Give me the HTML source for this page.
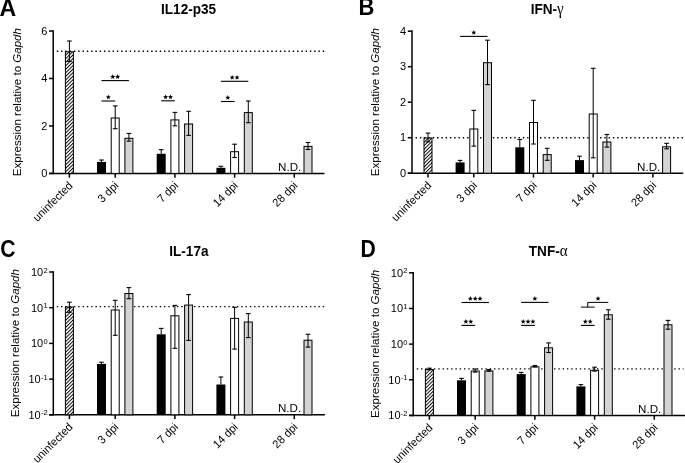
<!DOCTYPE html>
<html><head><meta charset="utf-8"><style>
html,body{margin:0;padding:0;background:#fff;}
body{width:685px;height:463px;overflow:hidden;}
svg{display:block;font-family:"Liberation Sans", sans-serif;will-change:transform;}
</style></head><body>
<svg width="685" height="463" viewBox="0 0 685 463" fill="#000">
<defs><pattern id="hatch" patternUnits="userSpaceOnUse" width="8" height="2.5" patternTransform="rotate(-45)"><rect x="0" y="0" width="8" height="2.5" fill="#fff"/><rect x="0" y="0" width="8" height="0.95" fill="#000"/></pattern></defs>
<text transform="translate(-0.5,15.5) scale(1.05,1.07)" font-size="22" font-weight="bold">A</text><text transform="translate(188.6,14.1) scale(1,1.05)" font-size="13.6" font-weight="bold" text-anchor="middle">IL12-p35</text><text transform="translate(20.9,176.2) scale(1,1.05) rotate(-90)" font-size="11">Expression relative to <tspan font-style="italic">Gapdh</tspan></text><line x1="53.2" y1="30.25" x2="53.2" y2="174.15" stroke="#000" stroke-width="1.5"/><line x1="49.0" y1="173.4" x2="324.5" y2="173.4" stroke="#000" stroke-width="1.5"/><line x1="49.0" y1="173.4" x2="53.2" y2="173.4" stroke="#000" stroke-width="1.5"/><text transform="translate(47.400000000000006,177.1) scale(1,1.044)" font-size="11" text-anchor="end">0</text><line x1="49.0" y1="125.94" x2="53.2" y2="125.94" stroke="#000" stroke-width="1.5"/><text transform="translate(47.400000000000006,129.64) scale(1,1.044)" font-size="11" text-anchor="end">2</text><line x1="49.0" y1="78.48" x2="53.2" y2="78.48" stroke="#000" stroke-width="1.5"/><text transform="translate(47.400000000000006,82.18) scale(1,1.044)" font-size="11" text-anchor="end">4</text><line x1="49.0" y1="31.02000000000001" x2="53.2" y2="31.02000000000001" stroke="#000" stroke-width="1.5"/><text transform="translate(47.400000000000006,34.72000000000001) scale(1,1.044)" font-size="11" text-anchor="end">6</text><line x1="69.4" y1="173.4" x2="69.4" y2="177.70000000000002" stroke="#000" stroke-width="1.5"/><text transform="translate(73.40,186.30) rotate(-45) scale(1,1.04)" font-size="11" text-anchor="end">uninfected</text><line x1="115.2" y1="173.4" x2="115.2" y2="177.70000000000002" stroke="#000" stroke-width="1.5"/><text transform="translate(119.20,186.30) rotate(-45) scale(1,1.04)" font-size="11" text-anchor="end">3 dpi</text><line x1="174.9" y1="173.4" x2="174.9" y2="177.70000000000002" stroke="#000" stroke-width="1.5"/><text transform="translate(178.90,186.30) rotate(-45) scale(1,1.04)" font-size="11" text-anchor="end">7 dpi</text><line x1="234.60000000000002" y1="173.4" x2="234.60000000000002" y2="177.70000000000002" stroke="#000" stroke-width="1.5"/><text transform="translate(238.60,186.30) rotate(-45) scale(1,1.04)" font-size="11" text-anchor="end">14 dpi</text><line x1="294.3" y1="173.4" x2="294.3" y2="177.70000000000002" stroke="#000" stroke-width="1.5"/><text transform="translate(298.30,186.30) rotate(-45) scale(1,1.04)" font-size="11" text-anchor="end">28 dpi</text><line x1="56.8" y1="51.3" x2="324.5" y2="51.3" stroke="#000" stroke-width="1.4" stroke-dasharray="1.4 2.89"/><rect x="65.40" y="51.80" width="8.00" height="121.60" fill="url(#hatch)" stroke="#000" stroke-width="1"/><rect x="97.00" y="161.90" width="9.0" height="11.50" fill="#000"/><rect x="111.20" y="118.00" width="8.00" height="55.40" fill="#fff" stroke="#000" stroke-width="1"/><rect x="124.90" y="138.30" width="8.00" height="35.10" fill="#d4d4d4" stroke="#000" stroke-width="1"/><rect x="156.70" y="153.80" width="9.0" height="19.60" fill="#000"/><rect x="170.90" y="119.90" width="8.00" height="53.50" fill="#fff" stroke="#000" stroke-width="1"/><rect x="184.60" y="124.00" width="8.00" height="49.40" fill="#d4d4d4" stroke="#000" stroke-width="1"/><rect x="216.40" y="167.80" width="9.0" height="5.60" fill="#000"/><rect x="230.60" y="151.70" width="8.00" height="21.70" fill="#fff" stroke="#000" stroke-width="1"/><rect x="244.30" y="112.60" width="8.00" height="60.80" fill="#d4d4d4" stroke="#000" stroke-width="1"/><rect x="304.00" y="146.40" width="8.00" height="27.00" fill="#d4d4d4" stroke="#000" stroke-width="1"/><line x1="69.40" y1="41.00" x2="69.40" y2="61.50" stroke="#000" stroke-width="1"/><line x1="67.10" y1="41.00" x2="71.70" y2="41.00" stroke="#000" stroke-width="1.1"/><line x1="67.10" y1="61.50" x2="71.70" y2="61.50" stroke="#000" stroke-width="1.1"/><line x1="101.50" y1="160.00" x2="101.50" y2="161.90" stroke="#000" stroke-width="1"/><line x1="99.20" y1="160.00" x2="103.80" y2="160.00" stroke="#000" stroke-width="1.1"/><line x1="115.20" y1="105.90" x2="115.20" y2="128.70" stroke="#000" stroke-width="1"/><line x1="112.90" y1="105.90" x2="117.50" y2="105.90" stroke="#000" stroke-width="1.1"/><line x1="112.90" y1="128.70" x2="117.50" y2="128.70" stroke="#000" stroke-width="1.1"/><line x1="128.90" y1="133.40" x2="128.90" y2="141.10" stroke="#000" stroke-width="1"/><line x1="126.60" y1="133.40" x2="131.20" y2="133.40" stroke="#000" stroke-width="1.1"/><line x1="126.60" y1="141.10" x2="131.20" y2="141.10" stroke="#000" stroke-width="1.1"/><line x1="161.20" y1="149.70" x2="161.20" y2="153.80" stroke="#000" stroke-width="1"/><line x1="158.90" y1="149.70" x2="163.50" y2="149.70" stroke="#000" stroke-width="1.1"/><line x1="174.90" y1="112.40" x2="174.90" y2="125.80" stroke="#000" stroke-width="1"/><line x1="172.60" y1="112.40" x2="177.20" y2="112.40" stroke="#000" stroke-width="1.1"/><line x1="172.60" y1="125.80" x2="177.20" y2="125.80" stroke="#000" stroke-width="1.1"/><line x1="188.60" y1="111.30" x2="188.60" y2="135.40" stroke="#000" stroke-width="1"/><line x1="186.30" y1="111.30" x2="190.90" y2="111.30" stroke="#000" stroke-width="1.1"/><line x1="186.30" y1="135.40" x2="190.90" y2="135.40" stroke="#000" stroke-width="1.1"/><line x1="220.90" y1="166.30" x2="220.90" y2="167.80" stroke="#000" stroke-width="1"/><line x1="218.60" y1="166.30" x2="223.20" y2="166.30" stroke="#000" stroke-width="1.1"/><line x1="234.60" y1="144.20" x2="234.60" y2="157.50" stroke="#000" stroke-width="1"/><line x1="232.30" y1="144.20" x2="236.90" y2="144.20" stroke="#000" stroke-width="1.1"/><line x1="232.30" y1="157.50" x2="236.90" y2="157.50" stroke="#000" stroke-width="1.1"/><line x1="248.30" y1="101.00" x2="248.30" y2="122.70" stroke="#000" stroke-width="1"/><line x1="246.00" y1="101.00" x2="250.60" y2="101.00" stroke="#000" stroke-width="1.1"/><line x1="246.00" y1="122.70" x2="250.60" y2="122.70" stroke="#000" stroke-width="1.1"/><line x1="308.00" y1="142.50" x2="308.00" y2="149.50" stroke="#000" stroke-width="1"/><line x1="305.70" y1="142.50" x2="310.30" y2="142.50" stroke="#000" stroke-width="1.1"/><line x1="305.70" y1="149.50" x2="310.30" y2="149.50" stroke="#000" stroke-width="1.1"/><text x="301.3" y="170.9" font-size="11.6" text-anchor="end">N.D.</text><line x1="101.50" y1="80.60" x2="128.90" y2="80.60" stroke="#000" stroke-width="1.1"/><polygon points="112.78,74.20 113.46,75.85 115.25,76.00 113.89,77.16 114.30,78.90 112.78,77.97 111.25,78.90 111.66,77.16 110.30,76.00 112.09,75.85" fill="#000"/><polygon points="117.62,74.20 118.31,75.85 120.10,76.00 118.74,77.16 119.15,78.90 117.62,77.97 116.10,78.90 116.51,77.16 115.15,76.00 116.94,75.85" fill="#000"/><line x1="101.50" y1="101.00" x2="115.20" y2="101.00" stroke="#000" stroke-width="1.1"/><polygon points="108.35,94.60 109.04,96.25 110.82,96.40 109.46,97.56 109.88,99.30 108.35,98.37 106.82,99.30 107.24,97.56 105.88,96.40 107.66,96.25" fill="#000"/><line x1="161.20" y1="100.80" x2="174.90" y2="100.80" stroke="#000" stroke-width="1.1"/><polygon points="165.62,94.40 166.31,96.05 168.10,96.20 166.74,97.36 167.15,99.10 165.62,98.17 164.10,99.10 164.51,97.36 163.15,96.20 164.94,96.05" fill="#000"/><polygon points="170.47,94.40 171.16,96.05 172.95,96.20 171.59,97.36 172.00,99.10 170.47,98.17 168.95,99.10 169.36,97.36 168.00,96.20 169.79,96.05" fill="#000"/><line x1="220.90" y1="81.30" x2="248.30" y2="81.30" stroke="#000" stroke-width="1.1"/><polygon points="232.18,74.90 232.86,76.55 234.65,76.70 233.29,77.86 233.70,79.60 232.18,78.67 230.65,79.60 231.06,77.86 229.70,76.70 231.49,76.55" fill="#000"/><polygon points="237.03,74.90 237.71,76.55 239.50,76.70 238.14,77.86 238.55,79.60 237.03,78.67 235.50,79.60 235.91,77.86 234.55,76.70 236.34,76.55" fill="#000"/><line x1="220.90" y1="101.50" x2="234.60" y2="101.50" stroke="#000" stroke-width="1.1"/><polygon points="227.75,95.10 228.44,96.75 230.22,96.90 228.86,98.06 229.28,99.80 227.75,98.87 226.22,99.80 226.64,98.06 225.28,96.90 227.06,96.75" fill="#000"/><text transform="translate(358.4,15.3) scale(1,1.08)" font-size="22" font-weight="bold">B</text><text transform="translate(547.2,14.1) scale(1,1.05)" font-size="13.6" font-weight="bold" text-anchor="middle">IFN-<tspan font-weight="normal" font-family="Liberation Serif" font-size="15">γ</tspan></text><text transform="translate(379.4,176.2) scale(1,1.05) rotate(-90)" font-size="11">Expression relative to <tspan font-style="italic">Gapdh</tspan></text><line x1="412.0" y1="30.25" x2="412.0" y2="173.95" stroke="#000" stroke-width="1.5"/><line x1="407.8" y1="173.2" x2="683.2" y2="173.2" stroke="#000" stroke-width="1.5"/><line x1="407.8" y1="173.2" x2="412.0" y2="173.2" stroke="#000" stroke-width="1.5"/><text transform="translate(406.2,176.89999999999998) scale(1,1.044)" font-size="11" text-anchor="end">0</text><line x1="407.8" y1="137.7" x2="412.0" y2="137.7" stroke="#000" stroke-width="1.5"/><text transform="translate(406.2,141.39999999999998) scale(1,1.044)" font-size="11" text-anchor="end">1</text><line x1="407.8" y1="102.19999999999999" x2="412.0" y2="102.19999999999999" stroke="#000" stroke-width="1.5"/><text transform="translate(406.2,105.89999999999999) scale(1,1.044)" font-size="11" text-anchor="end">2</text><line x1="407.8" y1="66.69999999999999" x2="412.0" y2="66.69999999999999" stroke="#000" stroke-width="1.5"/><text transform="translate(406.2,70.39999999999999) scale(1,1.044)" font-size="11" text-anchor="end">3</text><line x1="407.8" y1="31.19999999999999" x2="412.0" y2="31.19999999999999" stroke="#000" stroke-width="1.5"/><text transform="translate(406.2,34.89999999999999) scale(1,1.044)" font-size="11" text-anchor="end">4</text><line x1="428.0" y1="173.2" x2="428.0" y2="177.5" stroke="#000" stroke-width="1.5"/><text transform="translate(432.00,186.10) rotate(-45) scale(1,1.04)" font-size="11" text-anchor="end">uninfected</text><line x1="473.8" y1="173.2" x2="473.8" y2="177.5" stroke="#000" stroke-width="1.5"/><text transform="translate(477.80,186.10) rotate(-45) scale(1,1.04)" font-size="11" text-anchor="end">3 dpi</text><line x1="533.5" y1="173.2" x2="533.5" y2="177.5" stroke="#000" stroke-width="1.5"/><text transform="translate(537.50,186.10) rotate(-45) scale(1,1.04)" font-size="11" text-anchor="end">7 dpi</text><line x1="593.2" y1="173.2" x2="593.2" y2="177.5" stroke="#000" stroke-width="1.5"/><text transform="translate(597.20,186.10) rotate(-45) scale(1,1.04)" font-size="11" text-anchor="end">14 dpi</text><line x1="652.9000000000001" y1="173.2" x2="652.9000000000001" y2="177.5" stroke="#000" stroke-width="1.5"/><text transform="translate(656.90,186.10) rotate(-45) scale(1,1.04)" font-size="11" text-anchor="end">28 dpi</text><line x1="415.6" y1="137.7" x2="683.2" y2="137.7" stroke="#000" stroke-width="1.4" stroke-dasharray="1.4 2.89"/><rect x="424.00" y="138.00" width="8.00" height="35.20" fill="url(#hatch)" stroke="#000" stroke-width="1"/><rect x="455.60" y="162.40" width="9.0" height="10.80" fill="#000"/><rect x="469.80" y="129.00" width="8.00" height="44.20" fill="#fff" stroke="#000" stroke-width="1"/><rect x="483.50" y="62.70" width="8.00" height="110.50" fill="#d4d4d4" stroke="#000" stroke-width="1"/><rect x="515.30" y="147.30" width="9.0" height="25.90" fill="#000"/><rect x="529.50" y="122.50" width="8.00" height="50.70" fill="#fff" stroke="#000" stroke-width="1"/><rect x="543.20" y="154.60" width="8.00" height="18.60" fill="#d4d4d4" stroke="#000" stroke-width="1"/><rect x="575.00" y="160.10" width="9.0" height="13.10" fill="#000"/><rect x="589.20" y="114.00" width="8.00" height="59.20" fill="#fff" stroke="#000" stroke-width="1"/><rect x="602.90" y="142.00" width="8.00" height="31.20" fill="#d4d4d4" stroke="#000" stroke-width="1"/><rect x="662.60" y="146.80" width="8.00" height="26.40" fill="#d4d4d4" stroke="#000" stroke-width="1"/><line x1="428.00" y1="133.10" x2="428.00" y2="141.90" stroke="#000" stroke-width="1"/><line x1="425.70" y1="133.10" x2="430.30" y2="133.10" stroke="#000" stroke-width="1.1"/><line x1="425.70" y1="141.90" x2="430.30" y2="141.90" stroke="#000" stroke-width="1.1"/><line x1="460.10" y1="160.40" x2="460.10" y2="162.40" stroke="#000" stroke-width="1"/><line x1="457.80" y1="160.40" x2="462.40" y2="160.40" stroke="#000" stroke-width="1.1"/><line x1="473.80" y1="110.40" x2="473.80" y2="146.10" stroke="#000" stroke-width="1"/><line x1="471.50" y1="110.40" x2="476.10" y2="110.40" stroke="#000" stroke-width="1.1"/><line x1="471.50" y1="146.10" x2="476.10" y2="146.10" stroke="#000" stroke-width="1.1"/><line x1="487.50" y1="40.20" x2="487.50" y2="84.60" stroke="#000" stroke-width="1"/><line x1="485.20" y1="40.20" x2="489.80" y2="40.20" stroke="#000" stroke-width="1.1"/><line x1="485.20" y1="84.60" x2="489.80" y2="84.60" stroke="#000" stroke-width="1.1"/><line x1="519.80" y1="139.50" x2="519.80" y2="147.30" stroke="#000" stroke-width="1"/><line x1="517.50" y1="139.50" x2="522.10" y2="139.50" stroke="#000" stroke-width="1.1"/><line x1="533.50" y1="100.30" x2="533.50" y2="144.00" stroke="#000" stroke-width="1"/><line x1="531.20" y1="100.30" x2="535.80" y2="100.30" stroke="#000" stroke-width="1.1"/><line x1="531.20" y1="144.00" x2="535.80" y2="144.00" stroke="#000" stroke-width="1.1"/><line x1="547.20" y1="148.30" x2="547.20" y2="160.30" stroke="#000" stroke-width="1"/><line x1="544.90" y1="148.30" x2="549.50" y2="148.30" stroke="#000" stroke-width="1.1"/><line x1="544.90" y1="160.30" x2="549.50" y2="160.30" stroke="#000" stroke-width="1.1"/><line x1="579.50" y1="156.20" x2="579.50" y2="160.10" stroke="#000" stroke-width="1"/><line x1="577.20" y1="156.20" x2="581.80" y2="156.20" stroke="#000" stroke-width="1.1"/><line x1="593.20" y1="68.30" x2="593.20" y2="157.80" stroke="#000" stroke-width="1"/><line x1="590.90" y1="68.30" x2="595.50" y2="68.30" stroke="#000" stroke-width="1.1"/><line x1="590.90" y1="157.80" x2="595.50" y2="157.80" stroke="#000" stroke-width="1.1"/><line x1="606.90" y1="134.50" x2="606.90" y2="147.10" stroke="#000" stroke-width="1"/><line x1="604.60" y1="134.50" x2="609.20" y2="134.50" stroke="#000" stroke-width="1.1"/><line x1="604.60" y1="147.10" x2="609.20" y2="147.10" stroke="#000" stroke-width="1.1"/><line x1="666.60" y1="143.30" x2="666.60" y2="148.80" stroke="#000" stroke-width="1"/><line x1="664.30" y1="143.30" x2="668.90" y2="143.30" stroke="#000" stroke-width="1.1"/><line x1="664.30" y1="148.80" x2="668.90" y2="148.80" stroke="#000" stroke-width="1.1"/><text x="660.3" y="170.9" font-size="11.6" text-anchor="end">N.D.</text><line x1="460.10" y1="36.40" x2="487.50" y2="36.40" stroke="#000" stroke-width="1.1"/><polygon points="473.80,30.00 474.49,31.65 476.27,31.80 474.91,32.96 475.33,34.70 473.80,33.77 472.27,34.70 472.69,32.96 471.33,31.80 473.11,31.65" fill="#000"/><text transform="translate(0.3,257.0) scale(0.96,1.05)" font-size="22" font-weight="bold">C</text><text transform="translate(188.9,255.5) scale(1,1.05)" font-size="13.6" font-weight="bold" text-anchor="middle">IL-17a</text><text transform="translate(19.0,417.2) scale(1,1.05) rotate(-90)" font-size="11">Expression relative to <tspan font-style="italic">Gapdh</tspan></text><line x1="53.3" y1="271.25" x2="53.3" y2="415.55" stroke="#000" stroke-width="1.5"/><line x1="49.099999999999994" y1="414.8" x2="324.8" y2="414.8" stroke="#000" stroke-width="1.5"/><line x1="49.099999999999994" y1="414.8" x2="53.3" y2="414.8" stroke="#000" stroke-width="1.5"/><text transform="translate(47.65,418.75) scale(1,1.044)" font-size="11" text-anchor="end">10<tspan font-size="7.6" dx="0.3" dy="-3.3">-2</tspan></text><line x1="49.099999999999994" y1="379.1" x2="53.3" y2="379.1" stroke="#000" stroke-width="1.5"/><text transform="translate(47.65,383.05) scale(1,1.044)" font-size="11" text-anchor="end">10<tspan font-size="7.6" dx="0.3" dy="-3.3">-1</tspan></text><line x1="49.099999999999994" y1="343.4" x2="53.3" y2="343.4" stroke="#000" stroke-width="1.5"/><text transform="translate(47.65,347.34999999999997) scale(1,1.044)" font-size="11" text-anchor="end">10<tspan font-size="7.6" dx="0.3" dy="-3.3">0</tspan></text><line x1="49.099999999999994" y1="307.7" x2="53.3" y2="307.7" stroke="#000" stroke-width="1.5"/><text transform="translate(47.65,311.65) scale(1,1.044)" font-size="11" text-anchor="end">10<tspan font-size="7.6" dx="0.3" dy="-3.3">1</tspan></text><line x1="49.099999999999994" y1="272.0" x2="53.3" y2="272.0" stroke="#000" stroke-width="1.5"/><text transform="translate(47.65,275.95) scale(1,1.044)" font-size="11" text-anchor="end">10<tspan font-size="7.6" dx="0.3" dy="-3.3">2</tspan></text><line x1="69.4" y1="414.8" x2="69.4" y2="419.1" stroke="#000" stroke-width="1.5"/><text transform="translate(73.40,427.70) rotate(-45) scale(1,1.04)" font-size="11" text-anchor="end">uninfected</text><line x1="115.2" y1="414.8" x2="115.2" y2="419.1" stroke="#000" stroke-width="1.5"/><text transform="translate(119.20,427.70) rotate(-45) scale(1,1.04)" font-size="11" text-anchor="end">3 dpi</text><line x1="174.9" y1="414.8" x2="174.9" y2="419.1" stroke="#000" stroke-width="1.5"/><text transform="translate(178.90,427.70) rotate(-45) scale(1,1.04)" font-size="11" text-anchor="end">7 dpi</text><line x1="234.60000000000002" y1="414.8" x2="234.60000000000002" y2="419.1" stroke="#000" stroke-width="1.5"/><text transform="translate(238.60,427.70) rotate(-45) scale(1,1.04)" font-size="11" text-anchor="end">14 dpi</text><line x1="294.3" y1="414.8" x2="294.3" y2="419.1" stroke="#000" stroke-width="1.5"/><text transform="translate(298.30,427.70) rotate(-45) scale(1,1.04)" font-size="11" text-anchor="end">28 dpi</text><line x1="56.8" y1="306.6" x2="324.8" y2="306.6" stroke="#000" stroke-width="1.4" stroke-dasharray="1.4 2.89"/><rect x="65.40" y="307.00" width="8.00" height="107.80" fill="url(#hatch)" stroke="#000" stroke-width="1"/><rect x="97.00" y="363.90" width="9.0" height="50.90" fill="#000"/><rect x="111.20" y="310.00" width="8.00" height="104.80" fill="#fff" stroke="#000" stroke-width="1"/><rect x="124.90" y="293.50" width="8.00" height="121.30" fill="#d4d4d4" stroke="#000" stroke-width="1"/><rect x="156.70" y="334.30" width="9.0" height="80.50" fill="#000"/><rect x="170.90" y="315.80" width="8.00" height="99.00" fill="#fff" stroke="#000" stroke-width="1"/><rect x="184.60" y="305.10" width="8.00" height="109.70" fill="#d4d4d4" stroke="#000" stroke-width="1"/><rect x="216.40" y="384.50" width="9.0" height="30.30" fill="#000"/><rect x="230.60" y="318.40" width="8.00" height="96.40" fill="#fff" stroke="#000" stroke-width="1"/><rect x="244.30" y="322.00" width="8.00" height="92.80" fill="#d4d4d4" stroke="#000" stroke-width="1"/><rect x="304.00" y="340.20" width="8.00" height="74.60" fill="#d4d4d4" stroke="#000" stroke-width="1"/><line x1="69.40" y1="302.20" x2="69.40" y2="312.30" stroke="#000" stroke-width="1"/><line x1="67.10" y1="302.20" x2="71.70" y2="302.20" stroke="#000" stroke-width="1.1"/><line x1="67.10" y1="312.30" x2="71.70" y2="312.30" stroke="#000" stroke-width="1.1"/><line x1="101.50" y1="362.20" x2="101.50" y2="363.90" stroke="#000" stroke-width="1"/><line x1="99.20" y1="362.20" x2="103.80" y2="362.20" stroke="#000" stroke-width="1.1"/><line x1="115.20" y1="300.30" x2="115.20" y2="335.30" stroke="#000" stroke-width="1"/><line x1="112.90" y1="300.30" x2="117.50" y2="300.30" stroke="#000" stroke-width="1.1"/><line x1="112.90" y1="335.30" x2="117.50" y2="335.30" stroke="#000" stroke-width="1.1"/><line x1="128.90" y1="287.60" x2="128.90" y2="298.70" stroke="#000" stroke-width="1"/><line x1="126.60" y1="287.60" x2="131.20" y2="287.60" stroke="#000" stroke-width="1.1"/><line x1="126.60" y1="298.70" x2="131.20" y2="298.70" stroke="#000" stroke-width="1.1"/><line x1="161.20" y1="328.40" x2="161.20" y2="334.30" stroke="#000" stroke-width="1"/><line x1="158.90" y1="328.40" x2="163.50" y2="328.40" stroke="#000" stroke-width="1.1"/><line x1="174.90" y1="305.40" x2="174.90" y2="348.30" stroke="#000" stroke-width="1"/><line x1="172.60" y1="305.40" x2="177.20" y2="305.40" stroke="#000" stroke-width="1.1"/><line x1="172.60" y1="348.30" x2="177.20" y2="348.30" stroke="#000" stroke-width="1.1"/><line x1="188.60" y1="294.60" x2="188.60" y2="340.40" stroke="#000" stroke-width="1"/><line x1="186.30" y1="294.60" x2="190.90" y2="294.60" stroke="#000" stroke-width="1.1"/><line x1="186.30" y1="340.40" x2="190.90" y2="340.40" stroke="#000" stroke-width="1.1"/><line x1="220.90" y1="377.00" x2="220.90" y2="384.50" stroke="#000" stroke-width="1"/><line x1="218.60" y1="377.00" x2="223.20" y2="377.00" stroke="#000" stroke-width="1.1"/><line x1="234.60" y1="307.30" x2="234.60" y2="349.10" stroke="#000" stroke-width="1"/><line x1="232.30" y1="307.30" x2="236.90" y2="307.30" stroke="#000" stroke-width="1.1"/><line x1="232.30" y1="349.10" x2="236.90" y2="349.10" stroke="#000" stroke-width="1.1"/><line x1="248.30" y1="313.60" x2="248.30" y2="337.60" stroke="#000" stroke-width="1"/><line x1="246.00" y1="313.60" x2="250.60" y2="313.60" stroke="#000" stroke-width="1.1"/><line x1="246.00" y1="337.60" x2="250.60" y2="337.60" stroke="#000" stroke-width="1.1"/><line x1="308.00" y1="334.30" x2="308.00" y2="347.10" stroke="#000" stroke-width="1"/><line x1="305.70" y1="334.30" x2="310.30" y2="334.30" stroke="#000" stroke-width="1.1"/><line x1="305.70" y1="347.10" x2="310.30" y2="347.10" stroke="#000" stroke-width="1.1"/><text x="301.2" y="411.6" font-size="11.6" text-anchor="end">N.D.</text><text transform="translate(360.6,256.9) scale(0.96,1.05)" font-size="22" font-weight="bold">D</text><text transform="translate(548.2,255.8) scale(1,1.05)" font-size="13.6" font-weight="bold" text-anchor="middle">TNF-<tspan font-weight="normal" font-family="Liberation Serif" font-size="15">α</tspan></text><text transform="translate(379.2,418.0) scale(1,1.05) rotate(-90)" font-size="11">Expression relative to <tspan font-style="italic">Gapdh</tspan></text><line x1="413.2" y1="272.05" x2="413.2" y2="416.15" stroke="#000" stroke-width="1.5"/><line x1="409.0" y1="415.4" x2="685" y2="415.4" stroke="#000" stroke-width="1.5"/><line x1="409.0" y1="415.4" x2="413.2" y2="415.4" stroke="#000" stroke-width="1.5"/><text transform="translate(407.55,419.34999999999997) scale(1,1.044)" font-size="11" text-anchor="end">10<tspan font-size="7.6" dx="0.3" dy="-3.3">-2</tspan></text><line x1="409.0" y1="379.75" x2="413.2" y2="379.75" stroke="#000" stroke-width="1.5"/><text transform="translate(407.55,383.7) scale(1,1.044)" font-size="11" text-anchor="end">10<tspan font-size="7.6" dx="0.3" dy="-3.3">-1</tspan></text><line x1="409.0" y1="344.1" x2="413.2" y2="344.1" stroke="#000" stroke-width="1.5"/><text transform="translate(407.55,348.05) scale(1,1.044)" font-size="11" text-anchor="end">10<tspan font-size="7.6" dx="0.3" dy="-3.3">0</tspan></text><line x1="409.0" y1="308.45" x2="413.2" y2="308.45" stroke="#000" stroke-width="1.5"/><text transform="translate(407.55,312.4) scale(1,1.044)" font-size="11" text-anchor="end">10<tspan font-size="7.6" dx="0.3" dy="-3.3">1</tspan></text><line x1="409.0" y1="272.8" x2="413.2" y2="272.8" stroke="#000" stroke-width="1.5"/><text transform="translate(407.55,276.75) scale(1,1.044)" font-size="11" text-anchor="end">10<tspan font-size="7.6" dx="0.3" dy="-3.3">2</tspan></text><line x1="429.4" y1="415.4" x2="429.4" y2="419.7" stroke="#000" stroke-width="1.5"/><text transform="translate(433.40,428.30) rotate(-45) scale(1,1.04)" font-size="11" text-anchor="end">uninfected</text><line x1="475.2" y1="415.4" x2="475.2" y2="419.7" stroke="#000" stroke-width="1.5"/><text transform="translate(479.20,428.30) rotate(-45) scale(1,1.04)" font-size="11" text-anchor="end">3 dpi</text><line x1="534.9" y1="415.4" x2="534.9" y2="419.7" stroke="#000" stroke-width="1.5"/><text transform="translate(538.90,428.30) rotate(-45) scale(1,1.04)" font-size="11" text-anchor="end">7 dpi</text><line x1="594.6" y1="415.4" x2="594.6" y2="419.7" stroke="#000" stroke-width="1.5"/><text transform="translate(598.60,428.30) rotate(-45) scale(1,1.04)" font-size="11" text-anchor="end">14 dpi</text><line x1="654.3" y1="415.4" x2="654.3" y2="419.7" stroke="#000" stroke-width="1.5"/><text transform="translate(658.30,428.30) rotate(-45) scale(1,1.04)" font-size="11" text-anchor="end">28 dpi</text><line x1="416.8" y1="368.9" x2="683.5" y2="368.9" stroke="#000" stroke-width="1.4" stroke-dasharray="1.4 2.89"/><rect x="425.40" y="369.50" width="8.00" height="45.90" fill="url(#hatch)" stroke="#000" stroke-width="1"/><rect x="457.00" y="380.30" width="9.0" height="35.10" fill="#000"/><rect x="471.20" y="371.00" width="8.00" height="44.40" fill="#fff" stroke="#000" stroke-width="1"/><rect x="484.90" y="370.90" width="8.00" height="44.50" fill="#d4d4d4" stroke="#000" stroke-width="1"/><rect x="516.70" y="374.10" width="9.0" height="41.30" fill="#000"/><rect x="530.90" y="366.80" width="8.00" height="48.60" fill="#fff" stroke="#000" stroke-width="1"/><rect x="544.60" y="347.80" width="8.00" height="67.60" fill="#d4d4d4" stroke="#000" stroke-width="1"/><rect x="576.40" y="386.40" width="9.0" height="29.00" fill="#000"/><rect x="590.60" y="370.30" width="8.00" height="45.10" fill="#fff" stroke="#000" stroke-width="1"/><rect x="604.30" y="314.80" width="8.00" height="100.60" fill="#d4d4d4" stroke="#000" stroke-width="1"/><rect x="664.00" y="324.80" width="8.00" height="90.60" fill="#d4d4d4" stroke="#000" stroke-width="1"/><line x1="429.40" y1="368.20" x2="429.40" y2="369.80" stroke="#000" stroke-width="1"/><line x1="427.10" y1="368.20" x2="431.70" y2="368.20" stroke="#000" stroke-width="1.1"/><line x1="427.10" y1="369.80" x2="431.70" y2="369.80" stroke="#000" stroke-width="1.1"/><line x1="461.50" y1="378.40" x2="461.50" y2="380.30" stroke="#000" stroke-width="1"/><line x1="459.20" y1="378.40" x2="463.80" y2="378.40" stroke="#000" stroke-width="1.1"/><line x1="475.20" y1="369.00" x2="475.20" y2="372.10" stroke="#000" stroke-width="1"/><line x1="472.90" y1="369.00" x2="477.50" y2="369.00" stroke="#000" stroke-width="1.1"/><line x1="472.90" y1="372.10" x2="477.50" y2="372.10" stroke="#000" stroke-width="1.1"/><line x1="488.90" y1="369.50" x2="488.90" y2="371.20" stroke="#000" stroke-width="1"/><line x1="486.60" y1="369.50" x2="491.20" y2="369.50" stroke="#000" stroke-width="1.1"/><line x1="486.60" y1="371.20" x2="491.20" y2="371.20" stroke="#000" stroke-width="1.1"/><line x1="521.20" y1="372.40" x2="521.20" y2="374.10" stroke="#000" stroke-width="1"/><line x1="518.90" y1="372.40" x2="523.50" y2="372.40" stroke="#000" stroke-width="1.1"/><line x1="534.90" y1="365.50" x2="534.90" y2="367.00" stroke="#000" stroke-width="1"/><line x1="532.60" y1="365.50" x2="537.20" y2="365.50" stroke="#000" stroke-width="1.1"/><line x1="532.60" y1="367.00" x2="537.20" y2="367.00" stroke="#000" stroke-width="1.1"/><line x1="548.60" y1="342.90" x2="548.60" y2="352.50" stroke="#000" stroke-width="1"/><line x1="546.30" y1="342.90" x2="550.90" y2="342.90" stroke="#000" stroke-width="1.1"/><line x1="546.30" y1="352.50" x2="550.90" y2="352.50" stroke="#000" stroke-width="1.1"/><line x1="580.90" y1="384.60" x2="580.90" y2="386.40" stroke="#000" stroke-width="1"/><line x1="578.60" y1="384.60" x2="583.20" y2="384.60" stroke="#000" stroke-width="1.1"/><line x1="594.60" y1="367.20" x2="594.60" y2="371.10" stroke="#000" stroke-width="1"/><line x1="592.30" y1="367.20" x2="596.90" y2="367.20" stroke="#000" stroke-width="1.1"/><line x1="592.30" y1="371.10" x2="596.90" y2="371.10" stroke="#000" stroke-width="1.1"/><line x1="608.30" y1="309.80" x2="608.30" y2="319.20" stroke="#000" stroke-width="1"/><line x1="606.00" y1="309.80" x2="610.60" y2="309.80" stroke="#000" stroke-width="1.1"/><line x1="606.00" y1="319.20" x2="610.60" y2="319.20" stroke="#000" stroke-width="1.1"/><line x1="668.00" y1="320.40" x2="668.00" y2="329.20" stroke="#000" stroke-width="1"/><line x1="665.70" y1="320.40" x2="670.30" y2="320.40" stroke="#000" stroke-width="1.1"/><line x1="665.70" y1="329.20" x2="670.30" y2="329.20" stroke="#000" stroke-width="1.1"/><text x="661.3" y="412.5" font-size="11.6" text-anchor="end">N.D.</text><line x1="461.50" y1="302.50" x2="488.90" y2="302.50" stroke="#000" stroke-width="1.1"/><polygon points="470.35,296.10 471.04,297.75 472.82,297.90 471.46,299.06 471.88,300.80 470.35,299.87 468.82,300.80 469.24,299.06 467.88,297.90 469.66,297.75" fill="#000"/><polygon points="475.20,296.10 475.89,297.75 477.67,297.90 476.31,299.06 476.73,300.80 475.20,299.87 473.67,300.80 474.09,299.06 472.73,297.90 474.51,297.75" fill="#000"/><polygon points="480.05,296.10 480.74,297.75 482.52,297.90 481.16,299.06 481.58,300.80 480.05,299.87 478.52,300.80 478.94,299.06 477.58,297.90 479.36,297.75" fill="#000"/><line x1="461.50" y1="325.40" x2="475.20" y2="325.40" stroke="#000" stroke-width="1.1"/><polygon points="465.93,319.00 466.61,320.65 468.40,320.80 467.04,321.96 467.45,323.70 465.93,322.77 464.40,323.70 464.81,321.96 463.45,320.80 465.24,320.65" fill="#000"/><polygon points="470.78,319.00 471.46,320.65 473.25,320.80 471.89,321.96 472.30,323.70 470.78,322.77 469.25,323.70 469.66,321.96 468.30,320.80 470.09,320.65" fill="#000"/><line x1="521.20" y1="302.40" x2="548.60" y2="302.40" stroke="#000" stroke-width="1.1"/><polygon points="534.90,296.00 535.59,297.65 537.37,297.80 536.01,298.96 536.43,300.70 534.90,299.77 533.37,300.70 533.79,298.96 532.43,297.80 534.21,297.65" fill="#000"/><line x1="521.20" y1="325.40" x2="534.90" y2="325.40" stroke="#000" stroke-width="1.1"/><polygon points="523.20,319.00 523.89,320.65 525.67,320.80 524.31,321.96 524.73,323.70 523.20,322.77 521.67,323.70 522.09,321.96 520.73,320.80 522.51,320.65" fill="#000"/><polygon points="528.05,319.00 528.74,320.65 530.52,320.80 529.16,321.96 529.58,323.70 528.05,322.77 526.52,323.70 526.94,321.96 525.58,320.80 527.36,320.65" fill="#000"/><polygon points="532.90,319.00 533.59,320.65 535.37,320.80 534.01,321.96 534.43,323.70 532.90,322.77 531.37,323.70 531.79,321.96 530.43,320.80 532.21,320.65" fill="#000"/><line x1="580.90" y1="325.40" x2="594.60" y2="325.40" stroke="#000" stroke-width="1.1"/><polygon points="585.33,319.00 586.01,320.65 587.80,320.80 586.44,321.96 586.85,323.70 585.33,322.77 583.80,323.70 584.21,321.96 582.85,320.80 584.64,320.65" fill="#000"/><polygon points="590.18,319.00 590.86,320.65 592.65,320.80 591.29,321.96 591.70,323.70 590.18,322.77 588.65,323.70 589.06,321.96 587.70,320.80 589.49,320.65" fill="#000"/><polyline points="580.90,307.1 594.60,307.1" stroke="#000" stroke-width="1" fill="none"/><polyline points="587.75,307.1 587.75,302.4 608.30,302.4" stroke="#000" stroke-width="1" fill="none"/><polygon points="598.03,296.00 598.71,297.65 600.50,297.80 599.14,298.96 599.55,300.70 598.03,299.77 596.50,300.70 596.91,298.96 595.55,297.80 597.34,297.65" fill="#000"/>
</svg></body></html>
